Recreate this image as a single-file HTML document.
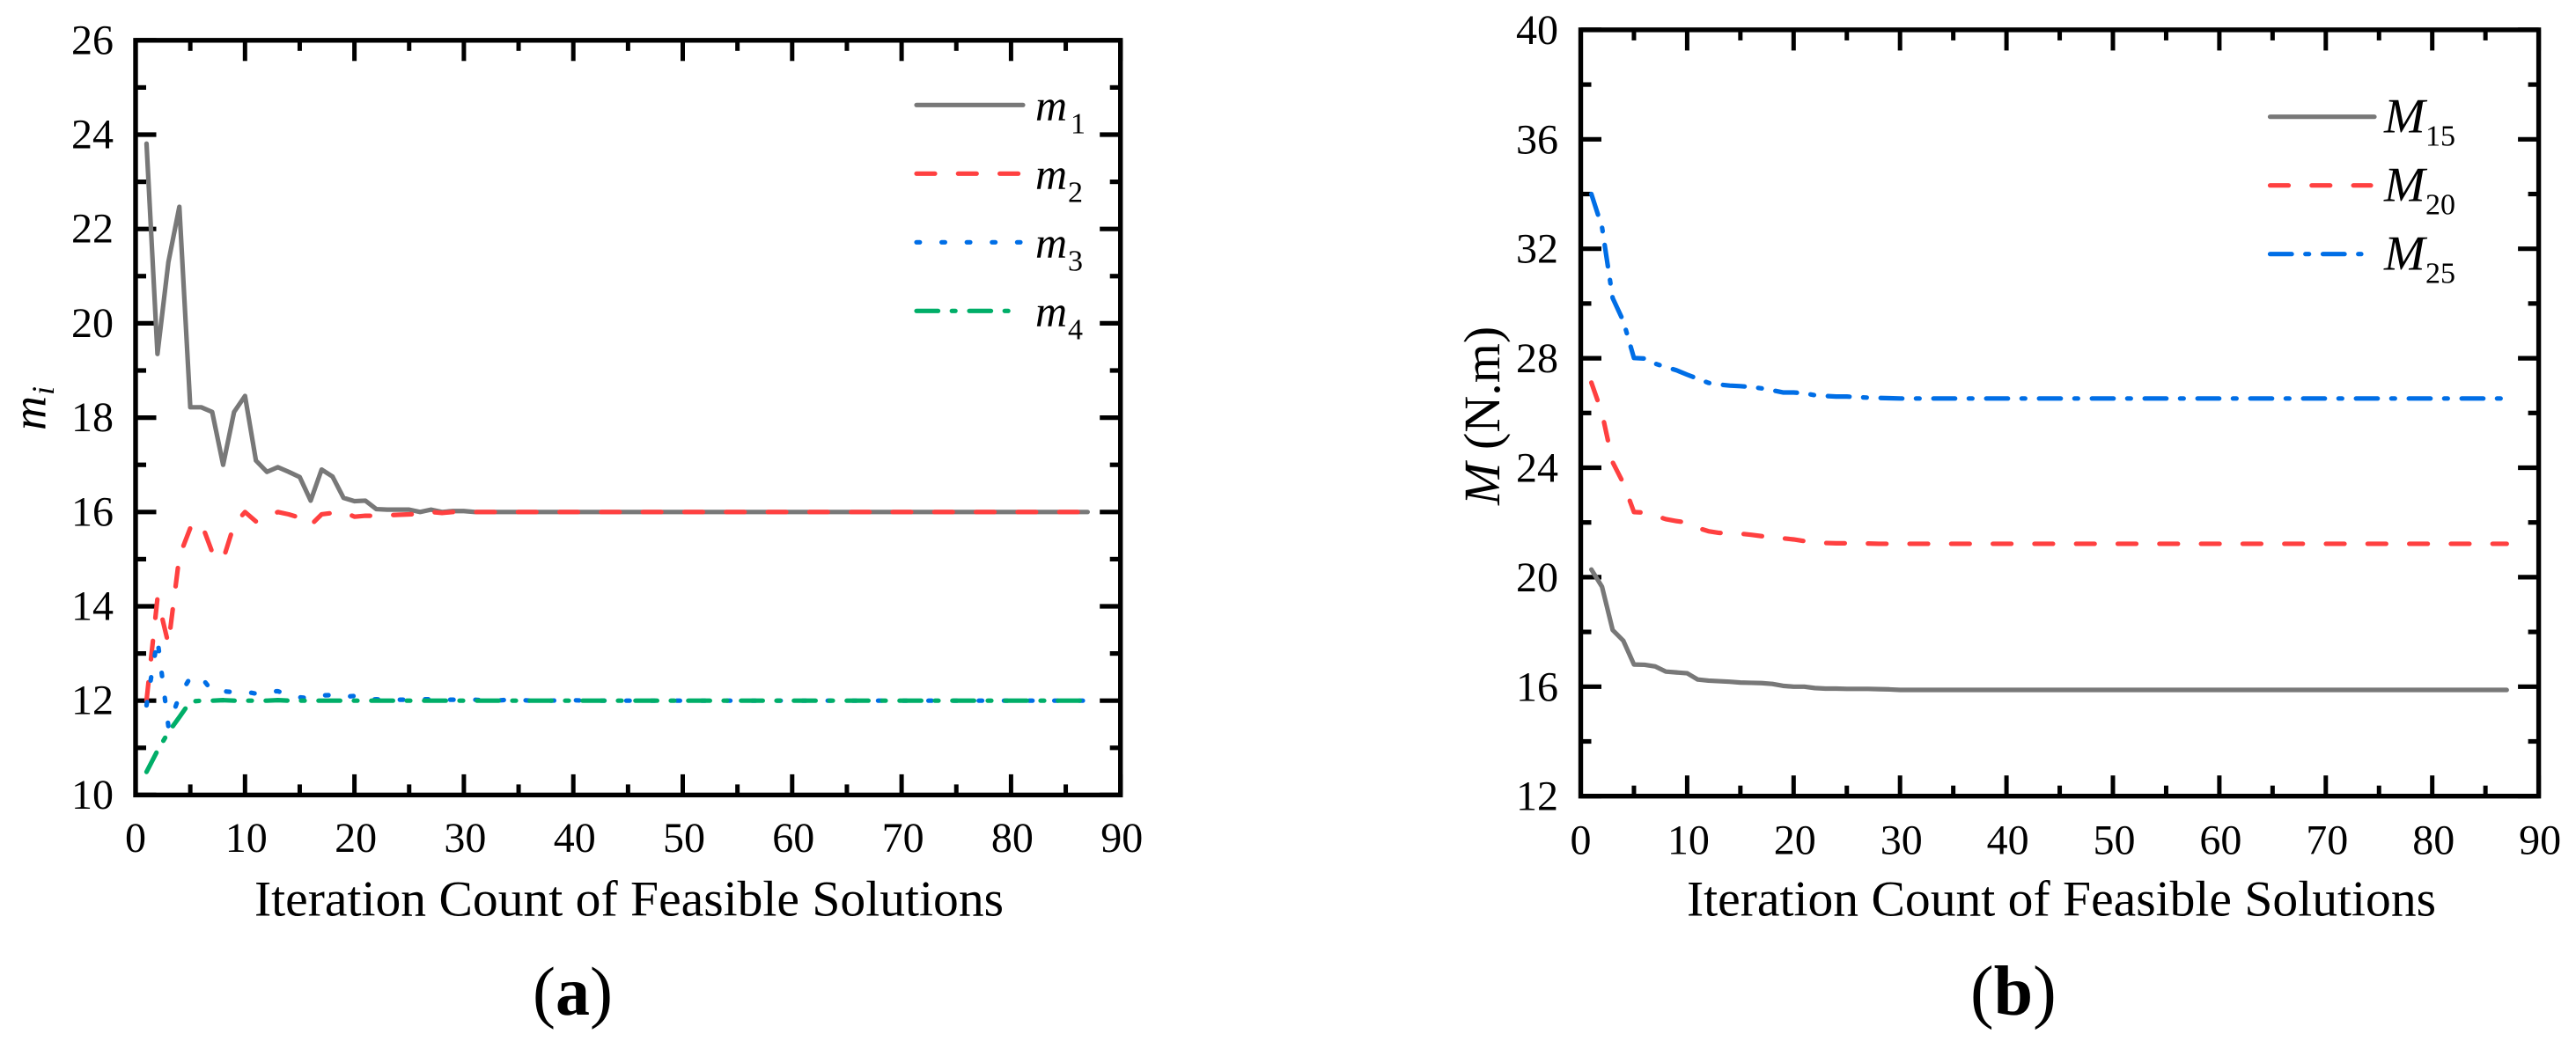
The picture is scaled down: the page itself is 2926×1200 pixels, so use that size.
<!DOCTYPE html>
<html lang="en">
<head>
<meta charset="utf-8">
<title>Iteration convergence charts</title>
<style>
  html, body { margin: 0; padding: 0; background: #ffffff; }
  body { width: 2926px; height: 1200px; overflow: hidden; }
  svg { display: block; }
  text { font-family: "Liberation Serif", "Times New Roman", serif; fill: #000000; }
</style>
</head>
<body>
<svg id="figure" xmlns="http://www.w3.org/2000/svg" width="2926" height="1200" viewBox="0 0 2926 1200"></svg>
<script>
// ---- Panel (a) data: design variables per iteration ----
const m1Values = [
  23.81,19.35,21.3,22.47,18.22,18.22,18.12,17.0,18.12,18.46,
  17.09,16.85,16.95,16.85,16.74,16.24,16.9,16.75,16.3,16.23,
  16.24,16.06,16.05,16.05,16.05,16.0,16.05,16.0,16.02,16.02,
  16,16,16,16,16,16,16,16,16,16,
  16,16,16,16,16,16,16,16,16,16,
  16,16,16,16,16,16,16,16,16,16,
  16,16,16,16,16,16,16,16,16,16,
  16,16,16,16,16,16,16,16,16,16,
  16,16,16,16,16,16,16
];
const m2Values = [
  12.0,14.17,13.2,15.06,15.66,15.77,15.15,14.99,15.73,16.0,
  15.8,15.88,16.0,15.95,15.88,15.72,15.95,15.98,16.0,15.9,
  15.92,15.92,15.93,15.94,15.95,15.96,16.0,15.98,16.0,16.0,
  16,16,16,16,16,16,16,16,16,16,
  16,16,16,16,16,16,16,16,16,16,
  16,16,16,16,16,16,16,16,16,16,
  16,16,16,16,16,16,16,16,16,16,
  16,16,16,16,16,16,16,16,16,16,
  16,16,16,16,16,16,16
];
const m3Values = [
  11.9,13.3,11.45,12.1,12.49,12.5,12.2,12.2,12.18,12.19,
  12.15,12.2,12.2,12.12,12.07,12.05,12.11,12.12,12.08,12.1,
  12.02,12.03,12.02,12.02,12.02,12.03,12.03,12.02,12.02,12.02,
  12.02,12.0,12.0,12.02,12.02,12.0,12.0,12.0,12.01,12.01,
  12,12,12,12,12,12,12,12,12,12,
  12,12,12,12,12,12,12,12,12,12,
  12,12,12,12,12,12,12,12,12,12,
  12,12,12,12,12,12,12,12,12,12,
  12,12,12,12,12,12,12
];
const m4Values = [
  10.49,10.94,11.33,11.65,11.98,12,12,12.01,12,12,
  12,12,12.01,12,12,12,12,12,12,12,
  12,12,12,12,12,12,12,12,12,12,
  12,12,12,12,12,12,12,12,12,12,
  12,12,12,12,12,12,12,12,12,12,
  12,12,12,12,12,12,12,12,12,12,
  12,12,12,12,12,12,12,12,12,12,
  12,12,12,12,12,12,12,12,12,12,
  12,12,12,12,12,12,12
];

// ---- Panel (b) data: torque per iteration ----
const m15Values = [
  20.28,19.65,18.07,17.68,16.81,16.8,16.74,16.55,16.52,16.49,
  16.26,16.22,16.2,16.18,16.15,16.14,16.13,16.1,16.03,16.0,
  16.0,15.95,15.93,15.93,15.92,15.92,15.92,15.91,15.9,15.88,
  15.88,15.88,15.88,15.88,15.88,15.88,15.88,15.88,15.88,15.88,
  15.88,15.88,15.88,15.88,15.88,15.88,15.88,15.88,15.88,15.88,
  15.88,15.88,15.88,15.88,15.88,15.88,15.88,15.88,15.88,15.88,
  15.88,15.88,15.88,15.88,15.88,15.88,15.88,15.88,15.88,15.88,
  15.88,15.88,15.88,15.88,15.88,15.88,15.88,15.88,15.88,15.88,
  15.88,15.88,15.88,15.88,15.88,15.88,15.88
];
const m20Values = [
  27.11,26.0,24.2,23.44,22.38,22.36,22.25,22.12,22.05,22.0,
  21.8,21.68,21.62,21.6,21.59,21.55,21.5,21.5,21.42,21.38,
  21.32,21.27,21.25,21.24,21.24,21.23,21.23,21.22,21.22,21.22,
  21.22,21.22,21.22,21.22,21.22,21.22,21.22,21.22,21.22,21.22,
  21.22,21.22,21.22,21.22,21.22,21.22,21.22,21.22,21.22,21.22,
  21.22,21.22,21.22,21.22,21.22,21.22,21.22,21.22,21.22,21.22,
  21.22,21.22,21.22,21.22,21.22,21.22,21.22,21.22,21.22,21.22,
  21.22,21.22,21.22,21.22,21.22,21.22,21.22,21.22,21.22,21.22,
  21.22,21.22,21.22,21.22,21.22,21.22,21.22
];
const m25Values = [
  34.0,32.79,30.2,29.36,28.01,27.99,27.8,27.68,27.56,27.4,
  27.25,27.1,27.04,27.0,26.98,26.95,26.9,26.83,26.75,26.75,
  26.72,26.65,26.62,26.6,26.6,26.58,26.56,26.55,26.54,26.53,
  26.53,26.53,26.53,26.53,26.53,26.53,26.53,26.53,26.53,26.53,
  26.53,26.53,26.53,26.53,26.53,26.53,26.53,26.53,26.53,26.53,
  26.53,26.53,26.53,26.53,26.53,26.53,26.53,26.53,26.53,26.53,
  26.53,26.53,26.53,26.53,26.53,26.53,26.53,26.53,26.53,26.53,
  26.53,26.53,26.53,26.53,26.53,26.53,26.53,26.53,26.53,26.53,
  26.53,26.53,26.53,26.53,26.53,26.53,26.53
];

// ---- Tick labels ----
const xMajorTicks = [0,10,20,30,40,50,60,70,80,90];
const xMinorTicks = [5,15,25,35,45,55,65,75,85];
const yMajorTicksA = [10,12,14,16,18,20,22,24,26];
const yMinorTicksA = [11,13,15,17,19,21,23,25];
const yMajorTicksB = [12,16,20,24,28,32,36,40];
const yMinorTicksB = [14,18,22,26,30,34,38];

const GREY = '#787878', RED = '#FF4040', BLUE = '#006EE6', GREEN = '#00AE68';
const SOLID = '', DASH = '21 26.3', DOT = '3.8 24.8', DASHDOT = '24.6 15.6 4 15.8';
const NS = 'http://www.w3.org/2000/svg';
const svg = document.getElementById('figure');

function make(tag, name, interactable) {
  const el = document.createElementNS(NS, tag);
  
  
  return el;
}
function seg(parent, name, x1, y1, x2, y2, width, color, dash, cap) {
  const l = make('line', name, false);
  l.setAttribute('x1', x1); l.setAttribute('y1', y1);
  l.setAttribute('x2', x2); l.setAttribute('y2', y2);
  l.setAttribute('stroke', color);
  l.setAttribute('stroke-width', width);
  l.setAttribute('stroke-linecap', cap || 'butt');
  if (dash) l.setAttribute('stroke-dasharray', dash);
  parent.appendChild(l);
  return l;
}
function label(parent, name, x, y, str, size, anchor, style, weight, rotate) {
  const t = make('text', name, false);
  t.setAttribute('x', x); t.setAttribute('y', y);
  t.setAttribute('font-size', size);
  t.setAttribute('text-anchor', anchor || 'start');
  if (style) t.setAttribute('font-style', style);
  if (weight) t.setAttribute('font-weight', weight);
  if (rotate) t.setAttribute('transform', 'rotate(' + rotate + ' ' + x + ' ' + y + ')');
  t.textContent = str;
  parent.appendChild(t);
  return t;
}

function drawPanel(p) {
  const g = make('g', p.name, false);
  svg.appendChild(g);
  const x = v => p.x0 + p.xUnit * v;
  const y = v => p.yBottom - p.yUnit * (v - p.yMin);
  const left = x(0), right = x(90), bottom = y(p.yMin), top = y(p.yMax);

  const frame = make('rect', 'plot-frame', false);
  frame.setAttribute('x', left); frame.setAttribute('y', top);
  frame.setAttribute('width', right - left); frame.setAttribute('height', bottom - top);
  frame.setAttribute('fill', 'none');
  frame.setAttribute('stroke', '#000');
  frame.setAttribute('stroke-width', 5.4);
  g.appendChild(frame);

  xMajorTicks.forEach(v => {
    seg(g, 'x-major-tick-bottom', x(v), bottom, x(v), bottom - 23.5, 5, '#000');
    seg(g, 'x-major-tick-top', x(v), top, x(v), top + 23.5, 5, '#000');
    label(g, 'x-tick-label', x(v) + (v === 0 ? 0 : 1.5), p.xLabelY, String(v), 48, 'middle');
  });
  xMinorTicks.forEach(v => {
    seg(g, 'x-minor-tick-bottom', x(v), bottom, x(v), bottom - 12, 5, '#000');
    seg(g, 'x-minor-tick-top', x(v), top, x(v), top + 12, 5, '#000');
  });
  p.yMajor.forEach(v => {
    seg(g, 'y-major-tick-left', left, y(v), left + 23.5, y(v), 5.2, '#000');
    seg(g, 'y-major-tick-right', right, y(v), right - 23.5, y(v), 5.2, '#000');
    label(g, 'y-tick-label', p.yLabelX, y(v) + p.yLabelDy, String(v), 48, 'end');
  });
  p.yMinor.forEach(v => {
    seg(g, 'y-minor-tick-left', left, y(v), left + 12, y(v), 5.2, '#000');
    seg(g, 'y-minor-tick-right', right, y(v), right - 12, y(v), 5.2, '#000');
  });

  p.series.forEach(s => {
    const path = make('polyline', s.name, false);
    const pts = s.values.map((v, i) => x(i + 1).toFixed(2) + ',' + y(v).toFixed(2)).join(' ');
    path.setAttribute('points', pts);
    path.setAttribute('fill', 'none');
    path.setAttribute('stroke', s.color);
    path.setAttribute('stroke-width', 5.2);
    path.setAttribute('stroke-linejoin', 'round');
    path.setAttribute('stroke-linecap', 'round');
    if (s.dash) path.setAttribute('stroke-dasharray', s.dash);
    g.appendChild(path);
  });

  p.series.forEach((s, i) => {
    const ly = p.legendY + i * 78;
    seg(g, 'legend-line-' + s.name, p.legendX1, ly, s.legendEnd, ly, 5.2, s.color, s.dash, 'round');
    label(g, 'legend-symbol-' + s.name, p.legendTextX, ly + p.legendBaseDy, p.legendSymbol, p.legendSize, 'start', 'italic');
    label(g, 'legend-subscript-' + s.name, s.subX, ly + p.legendSubDy, s.sub, 34, 'start');
  });

  label(g, 'x-axis-title', p.titleX, 1040.5, 'Iteration Count of Feasible Solutions', 57.6);
  label(g, 'panel-label-open-paren', p.captionX, 1153, '(', p.captionSize);
  label(g, 'panel-label-letter', p.captionX + p.captionSize * 0.333, 1153, p.caption, p.captionSize, 'start', null, 'bold');
  label(g, 'panel-label-close-paren', p.captionX + p.captionSize * (0.333 + p.captionW), 1153, ')', p.captionSize);
  p.yTitle(g);
}

drawPanel({
  name: 'panel-a-chart',
  x0: 154, xUnit: 12.43, yBottom: 903.4, yUnit: 53.6, yMin: 10, yMax: 26,
  yMajor: yMajorTicksA, yMinor: yMinorTicksA,
  xLabelY: 968, yLabelX: 129, yLabelDy: 15.5,
  legendX1: 1041, legendY: 119.3, legendTextX: 1176, legendBaseDy: 17.4, legendSubDy: 32.4,
  legendSymbol: 'm', legendSize: 50,
  titleX: 289, captionX: 605, captionSize: 78, caption: 'a', captionW: 0.5,
  series: [
    { name: 'm1', values: m1Values, color: GREY, dash: SOLID, sub: '1', subX: 1216, legendEnd: 1162 },
    { name: 'm2', values: m2Values, color: RED, dash: DASH, sub: '2', subX: 1213, legendEnd: 1158 },
    { name: 'm3', values: m3Values, color: BLUE, dash: DOT, sub: '3', subX: 1213, legendEnd: 1159 },
    { name: 'm4', values: m4Values, color: GREEN, dash: DASHDOT, sub: '4', subX: 1213, legendEnd: 1146 }
  ],
  yTitle: function (g) {
    label(g, 'y-axis-title', 51.5, 489, 'm', 54, 'start', 'italic', null, -90);
    label(g, 'y-axis-title-subscript', 61, 449, 'i', 36, 'start', 'italic', null, -90);
  }
});

drawPanel({
  name: 'panel-b-chart',
  x0: 1795.5, xUnit: 12.09, yBottom: 904.7, yUnit: 31.1, yMin: 12, yMax: 40,
  yMajor: yMajorTicksB, yMinor: yMinorTicksB,
  xLabelY: 970.5, yLabelX: 1770, yLabelDy: 16,
  legendX1: 2578.5, legendY: 132.7, legendTextX: 2708, legendBaseDy: 18, legendSubDy: 32.6,
  legendSymbol: 'M', legendSize: 56,
  titleX: 1916, captionX: 2238, captionSize: 80, caption: 'b', captionW: 0.556,
  series: [
    { name: 'M15', values: m15Values, color: GREY, dash: SOLID, sub: '15', subX: 2755, legendEnd: 2697 },
    { name: 'M20', values: m20Values, color: RED, dash: DASH, sub: '20', subX: 2755, legendEnd: 2693 },
    { name: 'M25', values: m25Values, color: BLUE, dash: DASHDOT, sub: '25', subX: 2755, legendEnd: 2682 }
  ],
  yTitle: function (g) {
    label(g, 'y-axis-title', 1703, 574, 'M', 58, 'start', 'italic', null, -90);
    label(g, 'y-axis-title-unit', 1703, 511, '(N.m)', 58, 'start', null, null, -90);
  }
});
</script>
</body>
</html>
